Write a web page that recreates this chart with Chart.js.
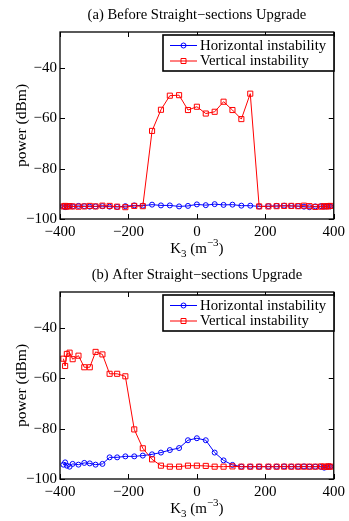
<!DOCTYPE html>
<html>
<head>
<meta charset="utf-8">
<script src="https://cdn.jsdelivr.net/npm/chart.js@4.4.1/dist/chart.umd.min.js"></script>
<style>
  html, body { margin: 0; padding: 0; background: #fff; }
  #wrap { position: relative; width: 349px; height: 521px; }
  canvas { position: absolute; left: 0; }
</style>
</head>
<body>
<div id="wrap">
  <canvas id="c1" width="349" height="260" style="top:0px"></canvas>
  <canvas id="c2" width="349" height="260" style="top:260px"></canvas>
</div>
<script>
// ---- data ----
const kValues = [-390, -385, -380, -372, -363, -346, -329, -313, -296, -276, -255, -233, -209, -183, -158, -131, -105, -79, -52, -26, 0, 26, 52, 78, 104, 130, 156, 182, 209, 233, 255, 276, 296, 313, 329, 346, 363, 372, 380, 385, 390];

const beforeHorizontal = [-95.0, -95.3, -95.1, -94.9, -95.0, -94.8, -94.9, -95.1, -95.0, -94.9, -95.1, -95.2, -94.9, -94.6, -94.7, -94.3, -94.6, -94.6, -95.0, -94.8, -94.2, -94.5, -94.1, -94.4, -94.3, -94.7, -94.7, -95.0, -94.9, -94.8, -94.7, -94.8, -94.9, -95.1, -95.3, -95.0, -94.9, -95.1, -95.0, -94.9, -95.0];
const beforeVertical = [-95.0, -94.8, -95.1, -94.9, -95.0, -95.1, -95.0, -94.8, -95.0, -94.7, -94.8, -95.1, -95.3, -94.8, -94.9, -65.0, -56.6, -51.0, -50.8, -56.7, -55.4, -58.1, -57.4, -53.4, -56.7, -60.3, -50.2, -95.0, -95.0, -94.9, -94.8, -94.8, -94.9, -94.7, -94.9, -95.2, -95.1, -94.9, -95.0, -94.9, -94.8];

const afterHorizontal = [-94.3, -93.4, -94.7, -95.1, -94.0, -94.3, -93.6, -93.8, -94.3, -94.0, -91.4, -91.4, -91.0, -91.0, -90.7, -90.2, -89.5, -88.5, -87.7, -84.6, -83.8, -84.6, -89.5, -92.6, -94.4, -95.1, -95.1, -95.1, -95.1, -95.1, -95.0, -95.1, -95.1, -95.0, -95.1, -95.1, -95.2, -95.5, -95.3, -95.0, -95.1];
const afterVertical = [-52.2, -55.1, -50.3, -49.8, -52.4, -51.0, -55.6, -55.6, -49.5, -50.5, -58.2, -58.2, -59.2, -80.3, -87.8, -92.2, -94.7, -95.1, -95.1, -94.7, -94.7, -94.8, -95.1, -95.1, -95.0, -95.1, -95.1, -95.1, -95.1, -95.1, -95.1, -95.1, -95.1, -95.1, -95.1, -95.1, -95.0, -95.1, -95.1, -95.0, -95.1];

const xTickValues = [-400, -200, 0, 200, 400];
const yTickValues = [-100, -80, -60, -40];
const seriesLabels = ['Horizontal instability', 'Vertical instability'];
const titles = ['(a) Before Straight\u2212sections Upgrade', '(b) After Straight\u2212sections Upgrade'];
const yLabel = 'power (dBm)';

// ---- drawing ----
const FONT = '"Liberation Serif", "Times New Roman", serif';

const decorPlugin = {
  id: 'decor',
  afterDraw(chart) {
    const { ctx, chartArea: a, scales } = chart;
    const x = scales.x, y = scales.y;
    const opts = chart.options.plugins.decor;
    ctx.save();
    // frame
    ctx.strokeStyle = '#000';
    ctx.lineWidth = 1.3;
    ctx.strokeRect(a.left, a.top, a.right - a.left, a.bottom - a.top);
    // inward ticks
    ctx.lineWidth = 1;
    const tl = 5;
    ctx.beginPath();
    xTickValues.forEach(v => {
      const px = Math.round(x.getPixelForValue(v)) + 0.5;
      ctx.moveTo(px, a.bottom); ctx.lineTo(px, a.bottom - tl);
      ctx.moveTo(px, a.top); ctx.lineTo(px, a.top + tl);
    });
    yTickValues.forEach(v => {
      const py = Math.round(y.getPixelForValue(v)) + 0.5;
      ctx.moveTo(a.left, py); ctx.lineTo(a.left + tl, py);
      ctx.moveTo(a.right, py); ctx.lineTo(a.right - tl, py);
    });
    ctx.stroke();

    // title
    ctx.fillStyle = '#000';
    ctx.font = '14.6px ' + FONT;
    ctx.textAlign = 'center';
    ctx.textBaseline = 'middle';
    ctx.fillText(opts.title, (a.left + a.right) / 2, 15);

    // y label
    ctx.save();
    ctx.translate(22, (a.top + a.bottom) / 2);
    ctx.rotate(-Math.PI / 2);
    ctx.font = '15.5px ' + FONT;
    ctx.fillText(yLabel, 0, 0);
    ctx.restore();

    // x label: K_3 (m^-3)
    const parts = [
      { t: 'K', f: 15, dy: 0 },
      { t: '3', f: 11, dy: 4 },
      { t: ' (m', f: 15, dy: 0 },
      { t: '\u22123', f: 11, dy: -7 },
      { t: ')', f: 15, dy: 0 }
    ];
    ctx.textAlign = 'left';
    ctx.textBaseline = 'alphabetic';
    let total = 0;
    parts.forEach(p => { ctx.font = p.f + 'px ' + FONT; p.w = ctx.measureText(p.t).width; total += p.w; });
    let cx = (a.left + a.right) / 2 - total / 2;
    const base = 253;
    parts.forEach(p => { ctx.font = p.f + 'px ' + FONT; ctx.fillText(p.t, cx, base + p.dy); cx += p.w; });

    // legend
    const L = { left: 163, top: 35, right: 334, bottom: 71 };
    ctx.fillStyle = '#fff';
    ctx.fillRect(L.left, L.top, L.right - L.left, L.bottom - L.top);
    ctx.strokeStyle = '#000';
    ctx.lineWidth = 1.6;
    ctx.strokeRect(L.left, L.top, L.right - L.left, L.bottom - L.top);
    const rows = [45.5, 61];
    chart.data.datasets.forEach((ds, i) => {
      const ry = rows[i];
      ctx.strokeStyle = ds.borderColor;
      ctx.lineWidth = 1;
      ctx.beginPath();
      ctx.moveTo(170, ry); ctx.lineTo(197, ry);
      ctx.stroke();
      ctx.beginPath();
      if (ds.pointStyle === 'circle') {
        ctx.arc(183.5, ry, 2.5, 0, Math.PI * 2);
      } else {
        ctx.rect(183.5 - 2.5, ry - 2.5, 5, 5);
      }
      ctx.stroke();
      ctx.fillStyle = '#000';
      ctx.font = '14.8px ' + FONT;
      ctx.textBaseline = 'middle';
      ctx.fillText(ds.label, 200, ry + 0.5);
    });
    ctx.restore();
  }
};

function makeChart(id, title, hVals, vVals) {
  const ctx = document.getElementById(id);
  return new Chart(ctx, {
    type: 'line',
    data: {
      datasets: [
        {
          label: seriesLabels[0],
          data: kValues.map((k, i) => ({ x: k, y: hVals[i] })),
          borderColor: '#0000ff',
          borderWidth: 1,
          pointStyle: 'circle',
          pointRadius: 2.5,
          pointBorderWidth: 1,
          pointBorderColor: '#0000ff',
          pointBackgroundColor: 'rgba(0,0,0,0)',
          tension: 0,
          order: 1
        },
        {
          label: seriesLabels[1],
          data: kValues.map((k, i) => ({ x: k, y: vVals[i] })),
          borderColor: '#ff0000',
          borderWidth: 1,
          pointStyle: 'rect',
          pointRadius: 3.6,
          pointBorderWidth: 1,
          pointBorderColor: '#ff0000',
          pointBackgroundColor: 'rgba(0,0,0,0)',
          tension: 0,
          order: 0
        }
      ]
    },
    options: {
      responsive: false,
      animation: false,
      devicePixelRatio: 1,
      layout: { autoPadding: false, padding: { left: 0, right: 11, top: 32, bottom: 0 } },
      plugins: {
        legend: { display: false },
        tooltip: { enabled: false },
        decor: { title: title }
      },
      scales: {
        x: {
          type: 'linear',
          min: -400, max: 400,
          afterBuildTicks: s => { s.ticks = xTickValues.map(v => ({ value: v })); },
          afterFit: s => { s.height = 41; },
          grid: { display: false, drawTicks: false },
          border: { display: false },
          ticks: {
            color: '#000',
            font: { family: FONT, size: 15 },
            padding: 4,
            maxRotation: 0,
            autoSkip: false,
            callback: v => String(v).replace('-', '\u2212')
          }
        },
        y: {
          type: 'linear',
          min: -100, max: -25.7,
          afterBuildTicks: s => { s.ticks = yTickValues.map(v => ({ value: v })); },
          afterFit: s => { s.width = 60; },
          grid: { display: false, drawTicks: false },
          border: { display: false },
          ticks: {
            color: '#000',
            font: { family: FONT, size: 15 },
            padding: 3,
            autoSkip: false,
            callback: v => String(v).replace('-', '\u2212')
          }
        }
      }
    },
    plugins: [decorPlugin]
  });
}

makeChart('c1', titles[0], beforeHorizontal, beforeVertical);
makeChart('c2', titles[1], afterHorizontal, afterVertical);
</script>
</body>
</html>
